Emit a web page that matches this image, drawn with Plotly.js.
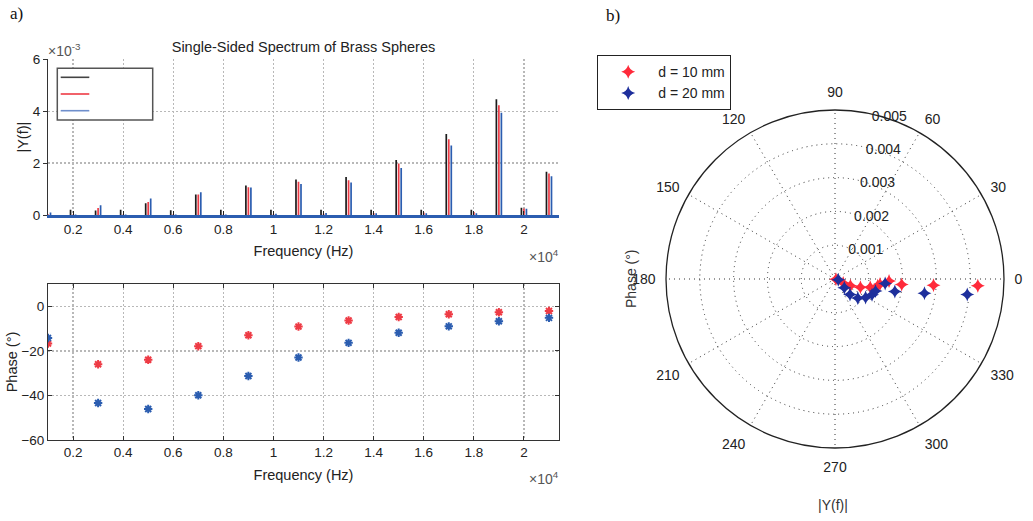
<!DOCTYPE html>
<html>
<head>
<meta charset="utf-8">
<script src="https://cdn.plot.ly/plotly-3.0.1.min.js"></script>
<style>html,body{margin:0;padding:0;background:#fff;}#chart{width:1033px;height:521px;}</style>
</head>
<body>
<div id="chart"></div>
<script>
// ---------- data ----------
// odd harmonics (main peaks) and even harmonics (small peaks), Hz
const oddFreq  = [1000, 3000, 5000, 7000, 9000, 11000, 13000, 15000, 17000, 19000, 21000];
const evenFreq = [2000, 4000, 6000, 8000, 10000, 12000, 14000, 16000, 18000, 20000];

// |Y(f)| peak magnitudes
const magBlackOdd = [0.02e-3, 0.17e-3, 0.45e-3, 0.79e-3, 1.14e-3, 1.37e-3, 1.46e-3, 2.12e-3, 3.12e-3, 4.46e-3, 1.67e-3];
const magRedOdd   = [0.03e-3, 0.27e-3, 0.50e-3, 0.79e-3, 1.07e-3, 1.28e-3, 1.34e-3, 1.98e-3, 2.92e-3, 4.23e-3, 1.60e-3];
const magBlueOdd  = [0.10e-3, 0.38e-3, 0.64e-3, 0.88e-3, 1.06e-3, 1.19e-3, 1.25e-3, 1.81e-3, 2.68e-3, 3.94e-3, 1.49e-3];
const magBlackEven = [0.20e-3, 0.20e-3, 0.18e-3, 0.20e-3, 0.20e-3, 0.20e-3, 0.20e-3, 0.20e-3, 0.20e-3, 0.28e-3];
const magRedEven   = [0.02e-3, 0.02e-3, 0.03e-3, 0.02e-3, 0.03e-3, 0.05e-3, 0.08e-3, 0.10e-3, 0.12e-3, 0.25e-3];
const magBlueEven  = [0.02e-3, 0.02e-3, 0.02e-3, 0.02e-3, 0.05e-3, 0.08e-3, 0.07e-3, 0.07e-3, 0.07e-3, 0.24e-3];

// phase (degrees) at odd harmonics
const phaseRed  = [-16.7, -26.0, -24.0, -17.9, -13.0, -9.1, -6.4, -4.8, -3.6, -2.7, -2.1];
const phaseBlue = [-14.2, -43.4, -46.1, -39.9, -31.3, -23.0, -16.4, -11.9, -9.0, -6.7, -5.2];

// labels
const seriesNames = ['d = 10 mm', 'd = 20 mm'];
const freqTickVals = [2000, 4000, 6000, 8000, 10000, 12000, 14000, 16000, 18000, 20000];
const freqTickText = ['0.2', '0.4', '0.6', '0.8', '1', '1.2', '1.4', '1.6', '1.8', '2'];
const magTickVals = [0, 0.002, 0.004, 0.006];
const magTickText = ['0', '2', '4', '6'];
const phaseTickVals = [0, -20, -40, -60];
const angTickVals = [0, 30, 60, 90, 120, 150, 180, 210, 240, 270, 300, 330];
const radTickVals = [0.001, 0.002, 0.003, 0.004, 0.005];

// ---------- helpers ----------
const W = 1033, H = 521;
const px = v => v / W;
const py = v => 1 - v / H;

function stems(freqs, mags, shift) {
  const x = [], y = [];
  freqs.forEach((f, i) => { x.push(f + shift, f + shift, null); y.push(0, mags[i], null); });
  return {x, y};
}
const BLACK = '#1c1c1c', RED = '#ee3b45', BLUE = '#2b5db0';
const PRED = '#ff2a3a', PBLUE = '#1e2f9c';
const FONT = 'Liberation Sans, Arial, sans-serif';

const traces = [];
[[magBlackOdd, magBlackEven, BLACK, -100], [magRedOdd, magRedEven, RED, 0], [magBlueOdd, magBlueEven, BLUE, 100]].forEach(([mo, me, c, sh]) => {
  const a = stems(oddFreq, mo, sh), b = stems(evenFreq, me, sh);
  traces.push({type: 'scatter', mode: 'lines', x: a.x.concat(b.x), y: a.y.concat(b.y),
    line: {color: c, width: 1.7}, showlegend: false, xaxis: 'x', yaxis: 'y', hoverinfo: 'skip'});
});
[[phaseRed, RED], [phaseBlue, BLUE]].forEach(([p, c]) => {
  traces.push({type: 'scatter', mode: 'markers', x: oddFreq, y: p, xaxis: 'x2', yaxis: 'y2', showlegend: false,
    marker: {symbol: 'asterisk-open', size: 7, color: c, line: {color: c, width: 2}}});
});
[[magRedOdd, phaseRed, PRED, seriesNames[0]], [magBlueOdd, phaseBlue, PBLUE, seriesNames[1]]].forEach(([r, t, c, n]) => {
  traces.push({type: 'scatterpolar', mode: 'markers', r: r, theta: t, subplot: 'polar', name: n, legend: 'legend2',
    marker: {symbol: 'star-diamond', size: 10, color: c, line: {width: 0}}});
});

const gridCommon = {gridcolor: '#b8b8b8', griddash: '2px,2px', gridwidth: 1.3};
const tickFont = {family: FONT, size: 13.5, color: '#222'};
const titleFont = {family: FONT, size: 14.5, color: '#222'};

// empty-text legend box of the spectrum panel (sample lines only)
const legendShapes = [
  {type: 'rect', xref: 'paper', yref: 'paper', x0: px(57.3), x1: px(152.7), y0: py(68.3), y1: py(120),
    line: {color: '#555', width: 1.5}, fillcolor: '#fff', layer: 'above'}
].concat([['#444', 77.3], [RED, 94], ['#6f8fcc', 110.7]].map(([c, yy]) => (
  {type: 'line', xref: 'paper', yref: 'paper', x0: px(60.7), x1: px(89.3), y0: py(yy), y1: py(yy),
    line: {color: c, width: 1.6}, layer: 'above'})));

const layout = {
  width: W, height: H,
  margin: {l: 0, r: 0, t: 0, b: 0},
  paper_bgcolor: '#fff', plot_bgcolor: '#fff',
  font: {family: FONT, color: '#222'},
  showlegend: true,
  title: {text: 'Single-Sided Spectrum of Brass Spheres', x: px(303.5), y: py(47), xanchor: 'center', yanchor: 'middle',
    font: {family: FONT, size: 14.5, color: '#222'}},
  xaxis: Object.assign({domain: [px(48), px(559)], range: [1000, 21400], anchor: 'y',
    tickmode: 'array', tickvals: freqTickVals, ticktext: freqTickText, tickfont: tickFont,
    showline: true, linecolor: BLUE, linewidth: 2.5, ticks: 'inside', ticklen: 4, tickcolor: '#222',
    title: {text: 'Frequency (Hz)', font: titleFont, standoff: 10}, zeroline: false}, gridCommon),
  yaxis: Object.assign({domain: [py(215), py(59.3)], range: [0, 0.006], anchor: 'x',
    tickmode: 'array', tickvals: magTickVals, ticktext: magTickText, tickfont: tickFont,
    showline: true, linecolor: '#333', linewidth: 1, ticks: 'outside', ticklen: 4, tickcolor: '#333',
    title: {text: '|Y(f)|', font: titleFont, standoff: 0}, zeroline: false}, gridCommon),
  xaxis2: Object.assign({domain: [px(48), px(559)], range: [1000, 21400], anchor: 'y2',
    tickmode: 'array', tickvals: freqTickVals, ticktext: freqTickText, tickfont: tickFont,
    showline: true, linecolor: '#333', linewidth: 1, mirror: 'ticks', ticks: 'inside', ticklen: 4, tickcolor: '#333',
    title: {text: 'Frequency (Hz)', font: titleFont, standoff: 10}, zeroline: false}, gridCommon),
  yaxis2: Object.assign({domain: [py(440), py(284)], range: [-60, 10], anchor: 'x2',
    tickmode: 'array', tickvals: phaseTickVals, tickfont: tickFont,
    showline: true, linecolor: '#333', linewidth: 1, mirror: 'ticks', ticks: 'inside', ticklen: 4, tickcolor: '#333',
    title: {text: 'Phase (°)', font: titleFont, standoff: 0}, zeroline: false}, gridCommon),
  polar: {
    domain: {x: [px(666), px(1004)], y: [py(448), py(110)]},
    bgcolor: 'rgba(0,0,0,0)',
    radialaxis: {range: [0, 0.005], tickmode: 'array', tickvals: radTickVals, ticktext: radTickVals.map(String),
      angle: 80, tickangle: 80, side: 'clockwise', showline: false, ticks: '', ticklabelshift: 13,
      gridcolor: '#333', griddash: '1px,4px', gridwidth: 1, tickfont: {family: FONT, size: 14, color: '#222'}},
    angularaxis: {direction: 'counterclockwise', rotation: 0, tickmode: 'array', tickvals: angTickVals,
      ticktext: angTickVals.map(String), showline: true, linecolor: '#222', linewidth: 1.3,
      ticks: 'outside', ticklen: 7, tickcolor: 'rgba(0,0,0,0)',
      gridcolor: '#333', griddash: '1px,4px', gridwidth: 1, tickfont: {family: FONT, size: 14, color: '#222'}}
  },
  legend2: {x: px(597), y: py(55), xanchor: 'left', yanchor: 'top', bgcolor: '#fff', itemwidth: 50,
    bordercolor: '#222', borderwidth: 1.2, font: {family: FONT, size: 14, color: '#222'}},
  shapes: legendShapes,
  annotations: [
    {text: '×10<sup>-3</sup>', xref: 'paper', yref: 'paper', x: px(46), y: py(50), xanchor: 'left', yanchor: 'middle', showarrow: false, font: {family: FONT, size: 14, color: '#555'}},
    {text: '×10<sup>4</sup>', xref: 'paper', yref: 'paper', x: px(561), y: py(256), xanchor: 'right', yanchor: 'middle', showarrow: false, font: {family: FONT, size: 14, color: '#555'}},
    {text: '×10<sup>4</sup>', xref: 'paper', yref: 'paper', x: px(561), y: py(478), xanchor: 'right', yanchor: 'middle', showarrow: false, font: {family: FONT, size: 14, color: '#555'}},
    {text: 'Phase (°)', xref: 'paper', yref: 'paper', x: px(631), y: py(279), textangle: -90, xanchor: 'center', yanchor: 'middle', showarrow: false, font: {family: FONT, size: 14, color: '#333'}},
    {text: '|Y(f)|', xref: 'paper', yref: 'paper', x: px(833), y: py(505), xanchor: 'center', yanchor: 'middle', showarrow: false, font: {family: FONT, size: 14, color: '#333'}},
    {text: 'a)', xref: 'paper', yref: 'paper', x: px(8), y: py(13), xanchor: 'left', yanchor: 'middle', showarrow: false, font: {family: 'Liberation Serif, Times New Roman, serif', size: 17, color: '#111'}},
    {text: 'b)', xref: 'paper', yref: 'paper', x: px(604), y: py(16), xanchor: 'left', yanchor: 'middle', showarrow: false, font: {family: 'Liberation Serif, Times New Roman, serif', size: 17, color: '#111'}}
  ]
};

Plotly.newPlot('chart', traces, layout, {displayModeBar: false, staticPlot: true});
</script>
</body>
</html>
